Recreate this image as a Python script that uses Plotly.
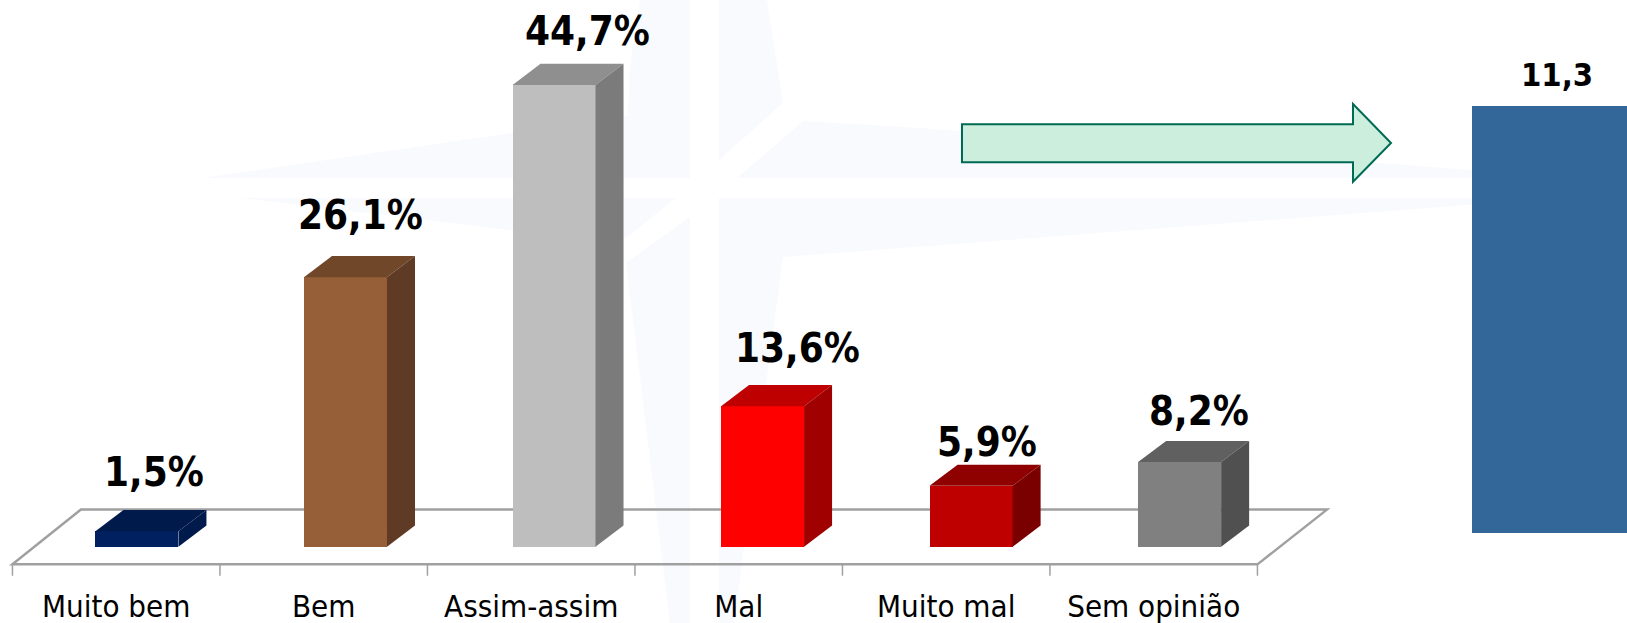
import plotly.graph_objects as go

categories = ["Muito bem", "Bem", "Assim-assim", "Mal", "Muito mal", "Sem opinião"]
values = [1.5, 26.1, 44.7, 13.6, 5.9, 8.2]
value_labels = ["1,5%", "26,1%", "44,7%", "13,6%", "5,9%", "8,2%"]
right_value = [11.3]
right_label = "11,3"

front_colors = ["#00205F", "#965F38", "#BEBEBE", "#FF0000", "#BF0000", "#808080"]
top_colors = ["#001A4C", "#714729", "#8F8F8F", "#BF0000", "#8F0000", "#606060"]
side_colors = ["#001A4C", "#5F3A24", "#7B7B7B", "#A00000", "#7A0000", "#505050"]

# label nudges in px relative to the top of each front face
label_dx = [17, 15, 33, 35, 16, 19]
label_dy = [59, 62, 54, 58, 44, 51]

W, H = 1627, 623
PLOT_H = 576
BAR_W, DEPTH_X, DEPTH_Y, BAR_OFF, BAR_STEP = 0.4, 0.135, 2.05, 0.1, 1.005
WATER = "#F8FAFD"
AXIS = "#A0A0A0"


def paper(pts):
    s = ""
    for n, (x, y) in enumerate(pts):
        s += ("M" if n == 0 else "L") + f"{x / W:.5f},{(PLOT_H - y) / PLOT_H:.5f} "
    return s + "Z"


fig = go.Figure()

# tick marks between categories
tx, ty = [], []
for i in range(len(categories) + 1):
    tx += [i - 0.5, i - 0.5, None]
    ty += [-1.7, -2.8, None]
fig.add_trace(go.Scatter(x=tx, y=ty, mode="lines", line=dict(color=AXIS, width=1.5),
                         hoverinfo="skip", showlegend=False))

xs = [BAR_OFF + i * BAR_STEP for i in range(len(categories))]
# front faces
fig.add_trace(go.Bar(x=xs, y=values, width=BAR_W, marker=dict(color=front_colors, line=dict(width=0)),
                     showlegend=False, hoverinfo="skip"))
# top and side faces, derived from values
for x, v, tc, sc in zip(xs, values, top_colors, side_colors):
    l, r = x - BAR_W / 2, x + BAR_W / 2
    fig.add_trace(go.Scatter(
        x=[l, r, r + DEPTH_X, l + DEPTH_X, l], y=[v, v, v + DEPTH_Y, v + DEPTH_Y, v],
        fill="toself", fillcolor=tc, mode="none", hoverinfo="skip", showlegend=False))
    fig.add_trace(go.Scatter(
        x=[r, r + DEPTH_X, r + DEPTH_X, r, r], y=[0, DEPTH_Y, v + DEPTH_Y, v, 0],
        fill="toself", fillcolor=sc, mode="none", hoverinfo="skip", showlegend=False))

# right-hand cropped bar on its own scale
fig.add_trace(go.Bar(x=[0.957], y=right_value, width=0.105, marker=dict(color="#336699", line=dict(width=0)),
                     xaxis="x2", yaxis="y2", showlegend=False, hoverinfo="skip"))

FONT = "Tahoma, 'DejaVu Sans Condensed', 'DejaVu Sans'"
annotations = [
    dict(x=x, y=v, xref="x", yref="y", text=f"<b>{t}</b>", showarrow=False, xshift=dx, yshift=dy,
         font=dict(family=FONT, size=40, color="black"), xanchor="center", yanchor="middle")
    for x, v, t, dx, dy in zip(xs, values, value_labels, label_dx, label_dy)
]
annotations.append(dict(x=0.957, y=right_value[0], xref="x2", yref="y2", text=f"<b>{right_label}</b>",
                        showarrow=False, yshift=31, font=dict(family=FONT, size=32.5, color="black"),
                        xanchor="center", yanchor="middle"))

water_polys = [
    [(202, 178), (628, 116), (630, 67), (640, 0), (690, 0), (690, 178)],
    [(719, 0), (767, 0), (783, 103), (719, 160)],
    [(737, 178), (803, 121), (920, 128), (1472, 170), (1560, 178)],
    [(241, 198), (510, 230), (626, 238), (676, 198)],
    [(690, 217), (626, 263), (670, 623), (690, 623)],
    [(719, 198), (1560, 198), (783, 257), (734, 623), (719, 623)],
]
shapes = [dict(type="path", xref="paper", yref="paper", path=paper(p), fillcolor=WATER,
               line=dict(width=0), layer="below") for p in water_polys]
# floor outline, under the bars
fx = [-0.5, 5.5, 5.835, -0.17]
fy = [-1.7, -1.7, 3.6, 3.6]
shapes.append(dict(type="path", xref="x", yref="y", layer="below",
                   path="M" + " L".join(f"{a},{b}" for a, b in zip(fx, fy)) + " Z",
                   line=dict(color=AXIS, width=2.5), fillcolor="rgba(0,0,0,0)"))
arrow = [(962, 124.3), (1353, 124.3), (1353, 104), (1391, 143), (1353, 181.7), (1353, 162.3), (962, 162.3)]
shapes.append(dict(type="path", xref="paper", yref="paper", path=paper(arrow), fillcolor="#CCEEDD",
                   line=dict(color="#006B55", width=2), layer="above"))

fig.update_layout(
    width=W, height=H, margin=dict(l=0, r=0, t=0, b=H - PLOT_H, autoexpand=False),
    paper_bgcolor="white", plot_bgcolor="rgba(0,0,0,0)", bargap=0,
    barmode="overlay", showlegend=False,
    xaxis=dict(range=[-0.56, 7.281], tickmode="array", tickvals=list(range(len(categories))),
               ticktext=categories, showgrid=False, zeroline=False, showline=False, automargin=False,
               ticks="outside", ticklen=3, tickcolor="rgba(0,0,0,0)",
               tickfont=dict(family=FONT, size=31, color="black")),
    yaxis=dict(range=[-2.827, 52.93], visible=False, showgrid=False, zeroline=False, automargin=False),
    xaxis2=dict(range=[0, 1], overlaying="x", anchor="y2", visible=False, automargin=False),
    yaxis2=dict(range=[-1.129, 14.1], overlaying="y", anchor="x2", visible=False, automargin=False),
    annotations=annotations, shapes=shapes,
)
fig.write_html("out.html", config=dict(displayModeBar=False),
               post_script="document.body.style.margin='0';document.body.style.overflow='hidden';")
